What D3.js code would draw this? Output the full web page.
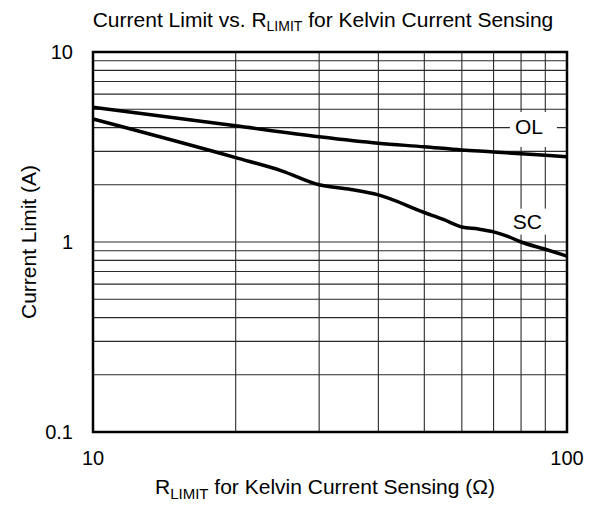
<!DOCTYPE html>
<html>
<head>
<meta charset="utf-8">
<script src="https://cdn.jsdelivr.net/npm/d3@7"></script>
<style>
  body { margin: 0; background: #fff; }
  svg text { font-family: "Liberation Sans", Arial, sans-serif; fill: #000; }
</style>
</head>
<body>
<svg id="chart" width="595" height="506"></svg>
<script>
// datos
const olR = [10, 20, 30, 40, 50, 60, 70, 80, 90, 100];
const olI = [5.12, 4.09, 3.58, 3.31, 3.17, 3.05, 2.98, 2.91, 2.86, 2.81];
const scR = [10, 20, 25, 30, 35, 40, 50, 55, 60, 65, 70, 75, 80, 90, 100];
const scI = [4.44, 2.78, 2.37, 2.0, 1.89, 1.77, 1.43, 1.31, 1.20, 1.17, 1.13, 1.07, 1.0, 0.916, 0.843];
const xTicks = [10, 100];
const yTicks = [0.1, 1, 10];
const yTickLabels = ['0.1', '1', '10'];

const margin = { left: 93, top: 52, right: 28, bottom: 74 };
const W = 595, H = 506;
const pw = W - margin.left - margin.right;
const ph = H - margin.top - margin.bottom;

const svg = d3.select('#chart');
const g = svg.append('g').attr('transform', `translate(${margin.left},${margin.top})`);

const x = d3.scaleLog().domain([10, 100]).range([0, pw]);
const y = d3.scaleLog().domain([0.1, 10]).range([ph, 0]);

// rejilla menor (2..9 por decada)
const xMinor = d3.range(20, 100, 10);
const yMinor = [];
[0.1, 1].forEach(d => { for (let k = 2; k <= 9; k++) yMinor.push(+(d * k).toFixed(2)); });
yMinor.push(1);

g.selectAll('.gx').data(xMinor).enter().append('line')
  .attr('x1', d => x(d)).attr('x2', d => x(d))
  .attr('y1', 0).attr('y2', ph)
  .attr('stroke', '#2a2a2a').attr('stroke-width', 1.1);

g.selectAll('.gy').data(yMinor).enter().append('line')
  .attr('x1', 0).attr('x2', pw)
  .attr('y1', d => y(d)).attr('y2', d => y(d))
  .attr('stroke', '#2a2a2a').attr('stroke-width', 1.1);

// cajas blancas de las etiquetas
const labels = [
  { text: 'OL', r: 83.1, v: 4.03, box: [-19, -15, 47, 35] },
  { text: 'SC', r: 82.5, v: 1.28, box: [-21, -13, 46, 26] }
];
labels.forEach(l => {
  g.append('rect')
    .attr('x', x(l.r) + l.box[0]).attr('y', y(l.v) + l.box[1])
    .attr('width', l.box[2]).attr('height', l.box[3])
    .attr('fill', '#fff');
});

// curvas
const line = d3.line()
  .x(d => x(d[0])).y(d => y(d[1]))
  .curve(d3.curveMonotoneX);

g.append('path')
  .datum(olR.map((r, i) => [r, olI[i]]))
  .attr('d', line).attr('fill', 'none')
  .attr('stroke', '#000').attr('stroke-width', 3.5);

g.append('path')
  .datum(scR.map((r, i) => [r, scI[i]]))
  .attr('d', line).attr('fill', 'none')
  .attr('stroke', '#000').attr('stroke-width', 3.5);

labels.forEach(l => {
  g.append('text')
    .attr('x', x(l.r)).attr('y', y(l.v))
    .attr('text-anchor', 'middle').attr('dy', '0.35em')
    .attr('font-size', '21px')
    .text(l.text);
});

// marco
g.append('rect')
  .attr('x', 0).attr('y', 0).attr('width', pw).attr('height', ph)
  .attr('fill', 'none').attr('stroke', '#000').attr('stroke-width', 2.5);

// etiquetas de ejes
g.selectAll('.yt').data(yTicks).enter().append('text')
  .attr('x', -20).attr('y', d => y(d)).attr('dy', '0.35em')
  .attr('text-anchor', 'end').attr('font-size', '20px')
  .text((d, i) => yTickLabels[i]);

g.selectAll('.xt').data(xTicks).enter().append('text')
  .attr('x', d => x(d)).attr('y', ph + 33)
  .attr('text-anchor', 'middle').attr('font-size', '20px')
  .text(d => d);

// titulo
const title = svg.append('text')
  .attr('x', 323).attr('y', 27)
  .attr('text-anchor', 'middle').attr('font-size', '21px');
title.append('tspan').text('Current Limit vs. R');
title.append('tspan').attr('font-size', '14px').attr('dy', 4).text('LIMIT');
title.append('tspan').attr('dy', -4).text(' for Kelvin Current Sensing');

// titulo eje x
const xt = svg.append('text')
  .attr('x', 325).attr('y', 494)
  .attr('text-anchor', 'middle').attr('font-size', '21px');
xt.append('tspan').text('R');
xt.append('tspan').attr('font-size', '15px').attr('dy', 5).text('LIMIT');
xt.append('tspan').attr('dy', -5).text(' for Kelvin Current Sensing (\u03A9)');

// titulo eje y
svg.append('text')
  .attr('transform', `translate(36,${margin.top + ph / 2}) rotate(-90)`)
  .attr('text-anchor', 'middle').attr('font-size', '21px')
  .text('Current Limit (A)');
</script>
</body>
</html>
